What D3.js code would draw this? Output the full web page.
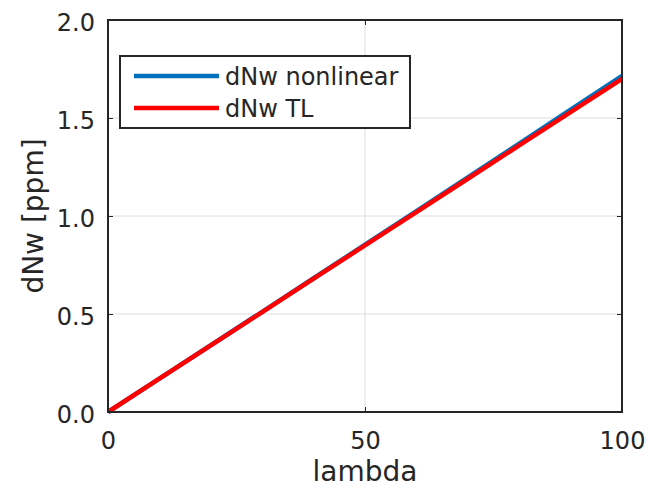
<!DOCTYPE html>
<html>
<head>
<meta charset="utf-8">
<script src="https://cdn.jsdelivr.net/npm/d3@7/dist/d3.min.js"></script>
<style>
  html, body { margin: 0; padding: 0; background: #fff; }
  svg text { font-family: "DejaVu Sans", sans-serif; fill: #262626; }
</style>
</head>
<body>
<svg id="chart" width="648" height="489"></svg>
<script>
// Perturbation size vs. lambda
const lambda = [0, 10, 20, 30, 40, 50, 60, 70, 80, 90, 100];
const dNwNonlinear = [0, 0.1702, 0.3406, 0.5114, 0.6824, 0.8538, 1.0254, 1.1974, 1.3696, 1.5422, 1.7150];
const dNwTL = [0, 0.1700, 0.3400, 0.5100, 0.6800, 0.8500, 1.0200, 1.1900, 1.3600, 1.5300, 1.7000];
const xTicks = [0, 50, 100];
const yTicks = [0, 0.5, 1.0, 1.5, 2.0];
const seriesNames = ["dNw nonlinear", "dNw TL"];
const seriesColors = ["#0072BD", "#FF0000"];

const svg = d3.select("#chart");
const m = { left: 108, top: 20, right: 622, bottom: 412 };

const x = d3.scaleLinear().domain([0, 100]).range([m.left, m.right]);
const y = d3.scaleLinear().domain([0, 2]).range([m.bottom, m.top]);

// grid
const grid = svg.append("g").attr("stroke", "#dedede").attr("stroke-width", 1);
xTicks.slice(1, -1).forEach(t => grid.append("line")
  .attr("x1", x(t)).attr("x2", x(t)).attr("y1", m.top).attr("y2", m.bottom));
yTicks.slice(1, -1).forEach(t => grid.append("line")
  .attr("x1", m.left).attr("x2", m.right).attr("y1", y(t)).attr("y2", y(t)));

// series
const line = d3.line().x((d, i) => x(lambda[i])).y(d => y(d));
[dNwNonlinear, dNwTL].forEach((s, k) => {
  svg.append("path").datum(s)
    .attr("d", line)
    .attr("fill", "none")
    .attr("stroke", seriesColors[k])
    .attr("stroke-width", 4.5);
});

// axes with inward ticks
const tickLen = 5;
const axisFont = "24px";
const xAxis = d3.axisBottom(x).tickValues(xTicks).tickSizeInner(-tickLen).tickSizeOuter(0).tickPadding(20)
  .tickFormat(d3.format("d"));
const gx = svg.append("g").attr("transform", `translate(0,${m.bottom})`).call(xAxis);
const yAxis = d3.axisLeft(y).tickValues(yTicks).tickSizeInner(-tickLen).tickSizeOuter(0).tickPadding(13)
  .tickFormat(d3.format(".1f"));
const gy = svg.append("g").attr("transform", `translate(${m.left},0)`).call(yAxis);
const gyr = svg.append("g").attr("transform", `translate(${m.right},0)`)
  .call(d3.axisRight(y).tickValues(yTicks).tickSizeInner(-tickLen).tickSizeOuter(0).tickFormat(""));
const gxt = svg.append("g").attr("transform", `translate(0,${m.top})`)
  .call(d3.axisTop(x).tickValues(xTicks).tickSizeInner(-tickLen).tickSizeOuter(0).tickFormat(""));
[gx, gy, gyr, gxt].forEach(g => {
  g.select(".domain").remove();
  g.selectAll(".tick line").attr("stroke", "#262626").attr("stroke-width", 1);
  g.selectAll("text").style("font-size", axisFont).style("fill", "#262626")
    .style("font-family", "'DejaVu Sans', sans-serif");
});
gy.selectAll("text").attr("dy", "0.42em");

// axes box
svg.append("rect")
  .attr("x", m.left).attr("y", m.top)
  .attr("width", m.right - m.left).attr("height", m.bottom - m.top)
  .attr("fill", "none").attr("stroke", "#262626").attr("stroke-width", 2);

// axis labels
svg.append("text").attr("x", (m.left + m.right) / 2).attr("y", 481)
  .attr("text-anchor", "middle").style("font-size", "28px").text("lambda");
svg.append("text").attr("transform", `translate(43,${(m.top + m.bottom) / 2}) rotate(-90)`)
  .attr("text-anchor", "middle").style("font-size", "28px").text("dNw [ppm]");

// legend
const lg = svg.append("g");
lg.append("rect").attr("x", 120).attr("y", 56).attr("width", 290).attr("height", 72)
  .attr("fill", "#fff").attr("stroke", "#262626").attr("stroke-width", 2);
seriesNames.forEach((name, k) => {
  const ly = 76 + k * 32;
  lg.append("line").attr("x1", 134).attr("x2", 219).attr("y1", ly).attr("y2", ly)
    .attr("stroke", seriesColors[k]).attr("stroke-width", 4.5);
  lg.append("text").attr("x", 225).attr("y", ly).attr("dy", "0.36em")
    .style("font-size", "24px").text(name);
});
</script>
</body>
</html>
